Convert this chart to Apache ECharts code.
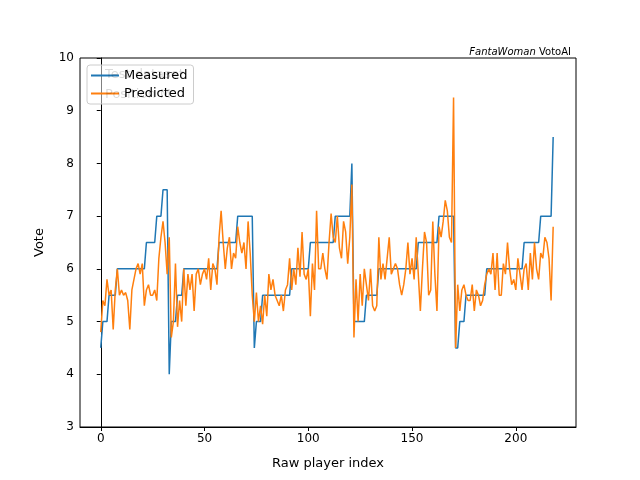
<!DOCTYPE html>
<html>
<head>
<meta charset="utf-8">
<script src="https://cdn.jsdelivr.net/npm/echarts@6/dist/echarts.min.js"></script>
<style>html,body{margin:0;padding:0;background:#fff}#c{width:640px;height:480px}</style>
</head>
<body>
<div id="c"></div>
<script>
// measured votes, step by step groups
var measuredSteps = [
  [0, 0, 4.5], [1, 3, 5.0], [4, 7, 5.5], [8, 21, 6.0], [22, 26, 6.5], [27, 29, 7.0],
  [30, 32, 7.5], [33, 33, 4.0], [34, 36, 5.0], [37, 39, 5.5], [40, 56, 6.0], [57, 65, 6.5],
  [66, 73, 7.0], [74, 74, 4.5], [75, 77, 5.0], [78, 91, 5.5], [92, 100, 6.0], [101, 112, 6.5],
  [113, 120, 7.0], [121, 121, 8.0], [122, 127, 5.0], [128, 133, 5.5], [134, 152, 6.0],
  [153, 162, 6.5], [163, 170, 7.0], [171, 172, 4.5], [173, 175, 5.0], [176, 185, 5.5],
  [186, 203, 6.0], [204, 211, 6.5], [212, 217, 7.0], [218, 218, 8.5]
];
var predicted = [
  4.8, 5.4, 5.3, 5.8, 5.5, 5.6, 4.85, 5.6, 6.0, 5.5, 5.6,
  5.5, 5.55, 5.4, 4.85, 5.6, 5.8, 6.0, 6.1, 5.9, 6.1, 5.3,
  5.6, 5.7, 5.5, 5.5, 5.6, 5.4, 6.2, 6.6, 6.9, 6.5, 5.9,
  6.6, 4.7, 5.0, 6.1, 4.9, 5.4, 5.0, 6.0, 5.3, 5.9, 5.6,
  5.9, 5.2, 5.9, 6.0, 5.7, 5.9, 6.0, 5.8, 6.2, 5.6, 6.1,
  6.0, 5.7, 6.6, 7.1, 6.5, 6.0, 6.4, 6.6, 6.0, 6.3, 6.2,
  6.8, 6.5, 6.3, 6.5, 6.0, 6.9, 6.3, 5.5,
  5.0, 5.55, 5.0, 5.3, 4.95, 5.5, 5.1, 5.9, 5.6, 5.8, 5.5,
  5.4, 5.3, 5.5, 5.2, 5.6, 5.7, 6.2, 5.6, 6.0, 5.7, 6.4,
  5.85, 6.7, 5.9, 5.8, 6.0, 5.1, 6.1, 5.6, 7.1, 6.0, 6.0,
  6.3, 6.0, 5.8, 6.5, 7.05, 6.6,
  6.5, 7.0, 6.4, 6.2, 6.9, 6.7, 6.1, 6.6, 7.6, 4.7, 5.8, 5.0, 5.9, 5.3, 6.0, 5.7, 5.4, 6.0, 5.3, 5.2, 5.3,
  6.6, 5.8, 6.1, 5.8, 6.2, 6.6, 5.9, 6.0, 6.1, 6.0, 5.7, 5.5, 5.7, 6.0, 6.5, 5.9, 6.2,
  5.8, 6.6, 5.9, 5.2, 6.0, 6.7, 6.5, 5.5, 5.6, 6.9, 5.9, 5.2, 6.8, 6.6, 6.9, 7.3, 7.1, 6.6, 6.5, 9.25,
  4.5, 5.7, 5.2, 5.6, 5.7, 5.5, 5.4, 5.4, 5.7, 5.2, 5.6, 5.5, 5.3, 5.4, 5.7,
  5.9, 6.0, 5.9, 6.3, 5.6, 6.3, 5.5, 5.5, 6.1, 5.9, 6.5, 6.0, 5.7, 5.8, 5.6,
  6.2, 5.9, 5.6, 6.0, 6.1, 5.6, 6.3, 5.8, 6.5, 6.0, 5.8, 6.3, 6.2, 6.6, 6.5, 6.2, 5.4, 6.8
];
var xTicks = [0, 50, 100, 150, 200];

var measured = [];
measuredSteps.forEach(function (s) {
  for (var i = s[0]; i <= s[1]; i++) measured.push([i, s[2]]);
});
var predPts = predicted.map(function (v, i) { return [i, v]; });

var font = 'DejaVu Sans';
var myChart = echarts.init(document.getElementById('c'));
myChart.setOption({
  animation: false,
  textStyle: { fontFamily: font },
  grid: { left: 80, right: 64, top: 58, bottom: 53, show: true, borderColor: '#000', borderWidth: 1 },
  title: {
    text: '{i|FantaWoman} VotoAI', right: 64, top: 42,
    textStyle: { fontSize: 10, fontWeight: 'normal', color: '#000', fontFamily: font,
      rich: { i: { fontStyle: 'italic', fontSize: 10, fontFamily: font } } }
  },
  graphic: [
    { type: 'text', left: 105, top: 68, z: 100, style: { text: 'Test dataset', fontSize: 13, fill: 'rgba(0,0,0,0.15)', fontFamily: font } },
    { type: 'text', left: 105, top: 88, z: 100, style: { text: 'Position M', fontSize: 13, fill: 'rgba(0,0,0,0.15)', fontFamily: font } }
  ],
  legend: {
    left: 87, top: 65, orient: 'vertical', itemGap: 5, itemWidth: 28, itemHeight: 2,
    backgroundColor: 'rgba(255,255,255,0.5)', borderColor: '#ccc', borderWidth: 1, borderRadius: 3,
    padding: [4, 6, 4, 4],
    textStyle: { fontSize: 13, color: '#000', fontFamily: font },
    data: [{ name: 'Measured', icon: 'rect' }, { name: 'Predicted', icon: 'rect' }]
  },
  xAxis: {
    type: 'value', min: -10, max: 229, name: 'Raw player index', nameLocation: 'middle', nameGap: 30,
    nameTextStyle: { fontSize: 13, color: '#000' },
    axisLine: { show: true, lineStyle: { color: '#000' } }, splitLine: { show: false },
    axisTick: { show: true, customValues: xTicks, length: 4, lineStyle: { color: '#000' } },
    axisLabel: { customValues: xTicks, color: '#000', fontSize: 12, margin: 6 }
  },
  yAxis: {
    type: 'value', min: 3, max: 10, interval: 1, name: 'Vote', nameLocation: 'middle', nameGap: 34,
    nameTextStyle: { fontSize: 13, color: '#000' },
    axisLine: { show: true, lineStyle: { color: '#000' } }, splitLine: { show: false },
    axisTick: { show: true, length: 4, lineStyle: { color: '#000' } },
    axisLabel: { color: '#000', fontSize: 12, margin: 6 }
  },
  series: [
    { name: 'Measured', type: 'line', data: measured, showSymbol: false, color: '#1f77b4', lineStyle: { width: 1.5 } },
    { name: 'Predicted', type: 'line', data: predPts, showSymbol: false, color: '#ff7f0e', lineStyle: { width: 1.5 } }
  ]
});
</script>
</body>
</html>
